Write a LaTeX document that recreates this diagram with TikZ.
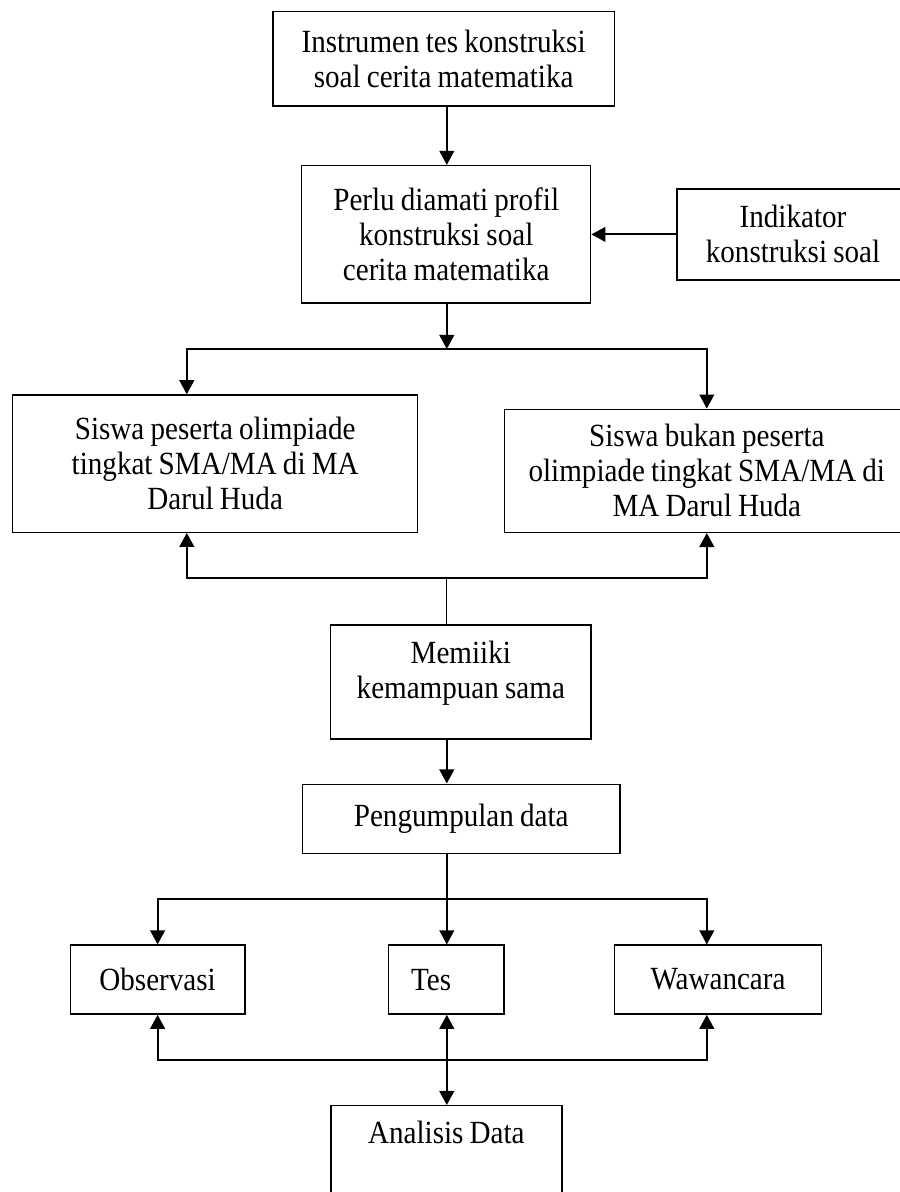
\documentclass[tikz,border=0pt]{standalone}
\usepackage{fontspec}
\setmainfont[FakeStretch=0.9, WordSpace=0.85]{Liberation Serif}
\usetikzlibrary{positioning, arrows.meta, calc}

\begin{document}
\begin{tikzpicture}[
    >={Triangle[length=10pt, width=10.5pt]},
    on grid,
    box/.style={draw, line width=1pt, align=flush center, inner sep=0pt,
        font=\fontsize{23}{24.9}\selectfont},
    arr/.style={->, line width=1.3pt},
    link/.style={line width=0.9pt}
]
\useasboundingbox (0,0) rectangle (22.5,-29.8);

% kotak-kotak alur
\node[box, minimum width=8.54cm, minimum height=2.36cm] (instr) at (11.09,-1.47) {Instrumen tes konstruksi\\soal cerita matematika};
\node[box, minimum width=7.225cm, minimum height=3.44cm] (perlu) at (11.155,-5.86) {Perlu diamati profil\\konstruksi soal\\cerita matematika};
\node[box, minimum width=5.8cm, minimum height=2.275cm, right=8.67cm of perlu] (indik) {Indikator\\konstruksi soal};
\node[box, minimum width=10.125cm, minimum height=3.43cm] (siswaA) at (5.38,-11.59) {Siswa peserta olimpiade\\tingkat SMA/MA di MA\\Darul Huda};
\node[box, minimum width=10.13cm, minimum height=3.075cm] (siswaB) at (17.67,-11.77) {Siswa bukan peserta\\olimpiade tingkat SMA/MA di\\MA Darul Huda};
\node[box, anchor=north, text width=6.51cm, text height=0.97cm, text depth=1.88cm] (sama) at (11.52,-15.61) {Memiiki\\kemampuan sama};
\node[box, minimum width=7.94cm, minimum height=1.73cm] (kumpul) at (11.53,-20.47) {Pengumpulan data};
\node[box, minimum width=2.885cm, minimum height=1.725cm, text width=1.765cm, align=left, inner xsep=0.56cm] (tes) at (11.16,-24.49) {Tes};
\node[box, minimum width=4.36cm, minimum height=1.725cm, left=7.22cm of tes] (obs) {Observasi};
\node[box, minimum width=5.185cm, minimum height=1.725cm, right=6.79cm of tes] (wawan) {Wawancara};
\node[box, anchor=north, text width=5.775cm, text height=0.95cm, text depth=2.2cm] (analisis) at (11.16,-27.625) {Analisis Data};

% titik cabang
\coordinate (jA) at (11.17,-8.725);
\coordinate (bA) at (4.67,-8.725);
\coordinate (bB) at (17.67,-8.725);
\coordinate (jM) at (11.17,-14.46);
\coordinate (cA) at (4.67,-14.46);
\coordinate (cB) at (17.67,-14.46);
\coordinate (jT) at (11.17,-22.475);
\coordinate (dO) at (3.94,-22.475);
\coordinate (dW) at (17.67,-22.475);
\coordinate (jE) at (11.17,-26.49);
\coordinate (eO) at (3.94,-26.49);
\coordinate (eW) at (17.67,-26.49);

% panah
\draw[arr] (jA |- instr.south) -- (jA |- perlu.north);
\draw[arr] (indik.west) -- (perlu.east |- indik.west);
\draw[arr] (jA |- perlu.south) -- (jA);
\draw[arr] (jA) -- (bA) -- (bA |- siswaA.north);
\draw[arr] (jA) -- (bB) -- (bB |- siswaB.north);
\draw[arr] (jM) -- (cA) -- (cA |- siswaA.south);
\draw[arr] (jM) -- (cB) -- (cB |- siswaB.south);
\draw[link] (jM) -- (jM |- sama.north);
\draw[arr] (jM |- sama.south) -- (jM |- kumpul.north);
\draw[arr] (jM |- kumpul.south) -- (jM |- tes.north);
\draw[arr] (jT) -- (dO) -- (dO |- obs.north);
\draw[arr] (jT) -- (dW) -- (dW |- wawan.north);
\draw[arr] (jE) -- (eO) -- (eO |- obs.south);
\draw[arr] (jE) -- (eW) -- (eW |- wawan.south);
\draw[arr, <->] (jE |- tes.south) -- (jE |- analisis.north);

\end{tikzpicture}
\end{document}
